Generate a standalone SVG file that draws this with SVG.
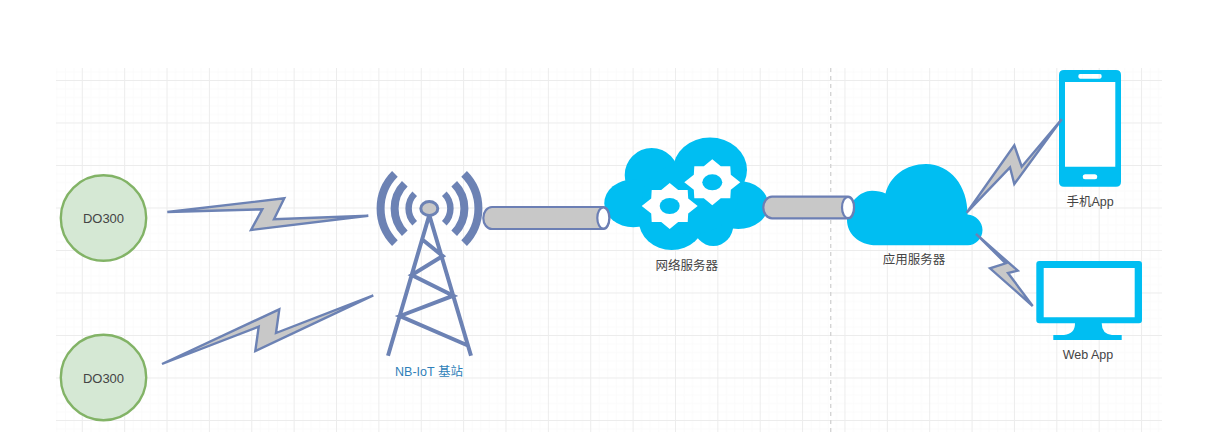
<svg xmlns="http://www.w3.org/2000/svg" width="1210" height="432" viewBox="0 0 1210 432">
<style>
.lbl{font-family:"Liberation Sans","Noto Sans CJK SC",sans-serif;font-size:12.5px;fill:#444;text-anchor:middle}
.do{fill:#d5e8d4;stroke:#82b366;stroke-width:2.4}
.bolt{fill:#c8c8c8;stroke:#6c82b4;stroke-width:2.4;stroke-linejoin:miter}
.cyl{fill:#c8c8c8;stroke:#6c7fb4;stroke-width:2.2}
.cap{fill:#fff;stroke:#6c7fb4;stroke-width:2.2}
.blue{fill:#00bef2}
.tw{fill:none;stroke:#6c82b4;stroke-width:4}
.arc{fill:none;stroke:#6c82b4}
</style>
<defs>
<pattern id="grid" patternUnits="userSpaceOnUse" x="81.8" y="80" width="42.37" height="42.5">
<path d="M9 0V42.5M17.5 0V42.5M26 0V42.5M34.4 0V42.5M0 9H42.37M0 17.5H42.37M0 26H42.37M0 34.5H42.37" fill="none" stroke="#fbfbfb" stroke-width="1"/>
<path d="M.5 0V42.5M0 .5H42.37" fill="none" stroke="#ececec" stroke-width="1"/>
</pattern>
<g id="gear">
<path fill="#fff" d="M0-23 8.500-16 18-16 18.500-7.500 28 0 18.500 7.500 18 16 8.500 16 0 23-8.500 16-18 16-18.500 7.500-28 0-18.500-7.500-18-16-8.500-16Z"/>
<ellipse class="blue" rx="10" ry="8"/>
</g>
</defs>
<rect x="56" y="68" width="1106" height="364" fill="url(#grid)"/>
<path d="M830.7 68V432" stroke="#d4d4d4" stroke-width="1.4" stroke-dasharray="4 4" fill="none"/>

<g id="do300-1"><circle class="do" cx="103.500" cy="218" r="42.700"/><text class="lbl" style="font-size:13px" x="103.500" y="223">DO300</text></g>
<g id="do300-2"><circle class="do" cx="103.500" cy="377.500" r="42.700"/><text class="lbl" style="font-size:13px" x="103.500" y="383">DO300</text></g>

<g id="tower">
<path class="arc" stroke-width="8" d="M394.900 173.900A49 49 0 0 0 394.900 243.100M464.100 173.900A49 49 0 0 1 464.100 243.100"/>
<path class="arc" stroke-width="8" d="M404.800 183.800A35 35 0 0 0 404.800 233.200M454.200 183.800A35 35 0 0 1 454.200 233.200"/>
<path class="arc" stroke-width="6.500" d="M414.700 193.700A21 21 0 0 0 414.700 223.300M444.300 193.700A21 21 0 0 1 444.300 223.300"/>
<path class="tw" d="M388 355.700 429.300 215 471 355.700M422 239.300 442.700 256 411.700 275 453.300 295.700 400 316 469 346"/>
<ellipse cx="429.300" cy="208.500" rx="8.500" ry="7" fill="#c8c8c8" stroke="#6c82b4" stroke-width="3"/>
<text class="lbl" x="429" y="376" style="fill:#2f7fb9">NB-IoT 基站</text>
</g>

<g id="network-server">
<g class="blue">
<ellipse cx="651.700" cy="175" rx="27" ry="27"/>
<ellipse cx="710" cy="170" rx="37" ry="32.500"/>
<ellipse cx="738.300" cy="205" rx="30" ry="24"/>
<ellipse cx="633.300" cy="203.300" rx="29" ry="24"/>
<ellipse cx="671.700" cy="220" rx="33" ry="30"/>
<ellipse cx="713.300" cy="225" rx="20" ry="21"/>
<ellipse cx="690" cy="198" rx="48" ry="36"/>
</g>
<use href="#gear" x="669.700" y="206"/>
<use href="#gear" x="712.300" y="182.300"/>
<text class="lbl" x="686.700" y="270">网络服务器</text>
</g>

<g id="app-server">
<path class="blue" d="M876.700 245.300C858 245.300 847 233 847 220C847 203 860 190.700 872 190.700C877 190.700 882 191.500 885.500 193.500C890 176 906 164 926 164C950 164 968 186 967.500 214.500C976 215 982.500 222 982.500 230C982.500 239 975 245.300 968 245.300Z"/>
<text class="lbl" x="914" y="264">应用服务器</text>
</g>

<g id="phone">
<rect x="1065" y="82" width="50.300" height="84.700" fill="#fff"/>
<path class="blue" fill-rule="evenodd" d="M1064 70H1116Q1121 70 1121 75V181.700Q1121 186.700 1116 186.700H1064Q1059 186.700 1059 181.700V75Q1059 70 1064 70ZM1065 82V166.700H1115.300V82ZM1080 74Q1078.300 74 1078.300 76.300Q1078.300 78.700 1080 78.700H1100Q1101.700 78.700 1101.700 76.300Q1101.700 74 1100 74ZM1085 174.300Q1082.700 174.300 1082.700 176.800Q1082.700 179.300 1085 179.300H1095Q1097.300 179.300 1097.300 176.800Q1097.300 174.300 1095 174.300Z"/>
<text class="lbl" x="1090" y="206">手机App</text>
</g>

<g id="monitor">
<rect x="1043.700" y="268" width="91" height="49.300" fill="#fff"/>
<path class="blue" fill-rule="evenodd" d="M1039.300 261H1139Q1142 261 1142 264V320.300Q1142 323.300 1139 323.300H1101.700Q1101.700 334 1112 335H1121.700V340H1053.300V335H1064Q1075 334 1075 323.300H1039.300Q1036.300 323.300 1036.300 320.300V264Q1036.300 261 1039.300 261ZM1043.700 268V317.300H1134.700V268Z"/>
<text class="lbl" x="1088" y="359">Web App</text>
</g>

<g id="connectors">
<path class="bolt" d="M167.300 212 284.300 198.300 274 219.300 368.300 215.700 251 230 262.300 209.300Z"/>
<path class="bolt" d="M162 364 279.300 309.300 276 333 373.300 295.300 255.300 351 258.700 326.700Z"/>
<path class="cyl" d="M492 207H603.300C607 207 609.300 212 609.300 218C609.300 224 607 229 603.300 229H492C487 229 483.300 224 483.300 218C483.300 212 487 207 492 207Z"/>
<ellipse class="cap" cx="603.300" cy="218" rx="6" ry="10.500"/>
<path class="cyl" d="M772 196.700H848C852 196.700 854 202 854 207.500C854 213 852 218.300 848 218.300H772C767 218.300 763.300 213 763.300 207.500C763.300 202 767 196.700 772 196.700Z"/>
<ellipse class="cap" cx="848" cy="207.500" rx="6" ry="10.500"/>
<path class="bolt" d="M966.700 212.700 1014.300 145.300 1021.700 166.700 1061.700 119.300 1014.300 184 1010 167.300Z"/>
<path class="bolt" d="M976 234 1017.700 270.700 1008 273 1032.700 306 990 268.300 1005.700 263.300Z"/>
</g>
</svg>
